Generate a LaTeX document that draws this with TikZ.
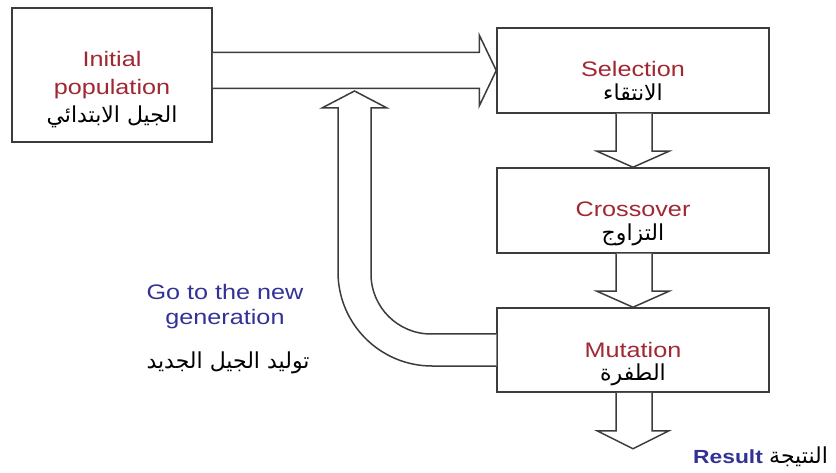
\documentclass[tikz,border=0pt]{standalone}
\usepackage{fontspec}
\setmainfont{Liberation Sans}[FakeStretch=1.2]
\newfontfamily\arabicfont[Script=Arabic]{DejaVu Sans}
\TeXXeTstate=1
\usetikzlibrary{calc}
\definecolor{linec}{RGB}{60,60,60}
\definecolor{redc}{RGB}{160,40,50}
\definecolor{bluec}{RGB}{50,50,150}
\begin{document}
\begin{tikzpicture}[x=1pt,y=-1pt,
  box/.style={draw=linec, line width=1.5pt, fill=white, minimum width=272pt, minimum height=85pt, inner sep=0pt},
  blk/.style={draw=linec, line width=1.5pt, fill=white, line join=miter},
  en/.style={anchor=base, text=redc, font=\fontsize{21}{24}\selectfont, inner sep=0pt},
  ar/.style={anchor=base, font=\fontsize{22}{24}\selectfont\arabicfont, inner sep=0pt},
  gn/.style={anchor=base, text=bluec, font=\fontsize{21}{24}\selectfont, inner sep=0pt}]
\useasboundingbox (0,0) rectangle (836,473);
% boxes
\node[box, minimum width=200pt, minimum height=134pt] (init) at (112,75) {};
\node[box] (sel) at (633,70.5) {};
\node[box] (cross) at (633,210.5) {};
\node[box, minimum height=84pt] (mut) at (633,350) {};
% arrow init -> selection
\coordinate (a1) at ($(sel.west)+(-17,-18)$);
\coordinate (a2) at ($(sel.west)+(-17,18)$);
\draw[blk] (init.east |- a1) -- (a1) -- ++(0,-17.5) -- (sel.west)
  -- ($(sel.west)+(-17,35.5)$) -- ++(0,-17.5) -- (init.east |- a2);
% down arrows
\draw[blk] ($(sel.south)+(-17,0)$) -- ($(cross.north)+(-17,-16)$) -- ++(-19,0) -- (cross.north)
  -- ($(cross.north)+(36,-16)$) -- ++(-17,0) -- ($(sel.south)+(19,0)$);
\draw[blk] ($(cross.south)+(-17,0)$) -- ($(mut.north)+(-17,-16)$) -- ++(-19,0) -- (mut.north)
  -- ($(mut.north)+(36,-16)$) -- ++(-17,0) -- ($(cross.south)+(19,0)$);
\coordinate (res) at ($(mut.south)+(0,56)$);
\draw[blk] ($(mut.south)+(-17,0)$) -- ($(res)+(-17,-18)$) -- ++(-19,0) -- (res)
  -- ($(res)+(36,-18)$) -- ++(-17,0) -- ($(mut.south)+(19,0)$);
% return arrow
\coordinate (ret) at (354.5,91);
\draw[blk] ($(mut.west)+(0,16)$) -- (432,366) .. controls (380.1,366) and (338,323.9) .. (338,272)
  -- (338,108) -- (322,108) -- (ret) -- (387,108) -- (371,108) -- (371,274)
  .. controls (371,307.1) and (397.9,334) .. (431,334) -- ($(mut.west)+(0,-16)$);
% texts
\node[en] (t1) at (112,67) {Initial};
\node[en] (t2) at (112,95) {population};
\node[ar] (t3) at (112,123) {\beginR الجيل الابتدائي\endR};
\node[en] (t4) at (633,77) {Selection};
\node[ar] (t5) at (633,101) {\beginR الانتقاء\endR};
\node[en] (t6) at (633,217) {Crossover};
\node[ar] (t7) at (633,241) {\beginR التزاوج\endR};
\node[en] (t8) at (633,357) {Mutation};
\node[ar] (t9) at (633,381) {\beginR الطفرة\endR};
\node[gn] (t10) at (225,300) {Go to the new};
\node[gn] (t11) at (225,325) {generation};
\node[ar] (t12) at (228,368) {\beginR توليد الجيل الجديد\endR};
\node[anchor=base west, inner sep=0pt, text=bluec, font=\fontsize{19}{22}\selectfont\bfseries] (t13) at (693,463)
  {Result \textcolor{black}{\fontsize{22}{24}\arabicfont\mdseries\beginR النتيجة\endR}};
\end{tikzpicture}
\end{document}
